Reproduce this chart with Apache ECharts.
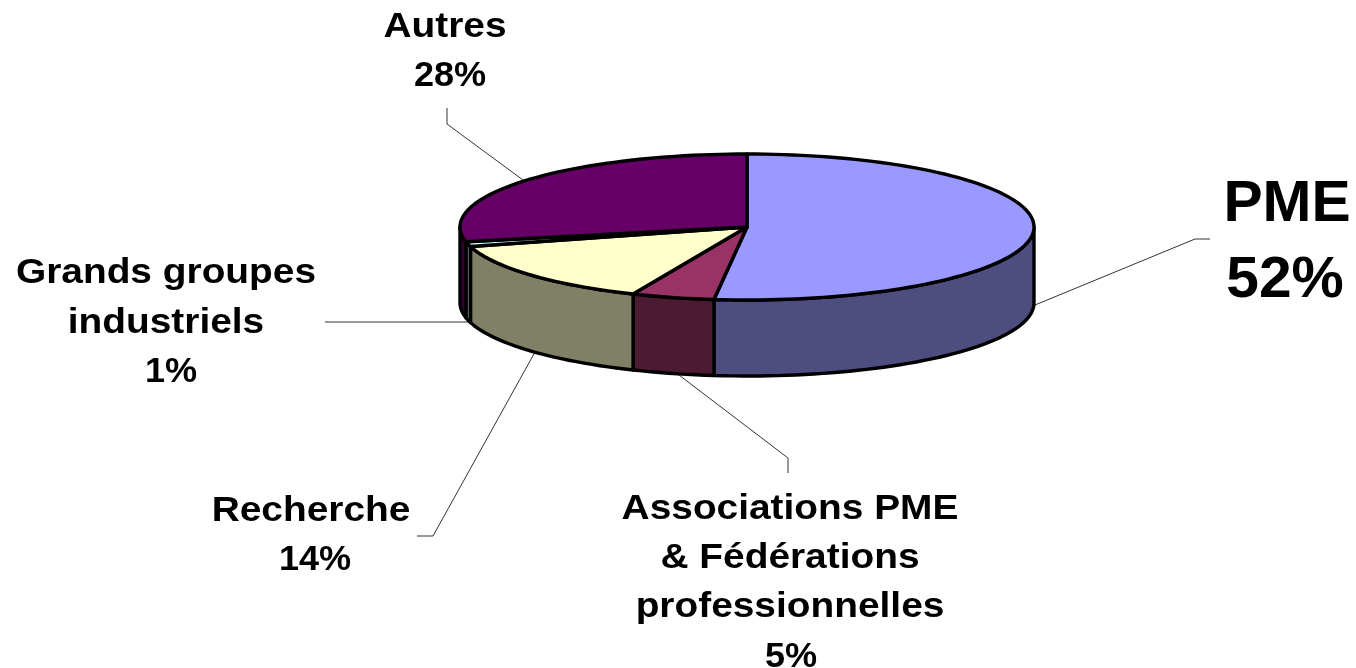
<!DOCTYPE html>
<html><head><meta charset="utf-8">
<style>html,body{margin:0;padding:0;background:#fff}#c{width:1356px;height:668px}</style>
<script src="https://cdn.jsdelivr.net/npm/echarts@6/dist/echarts.min.js"></script>
</head><body><div id="c"></div>
<script>
const categories = ['PME', 'Associations PME\n& Fédérations\nprofessionnelles', 'Recherche', 'Grands groupes\nindustriels', 'Autres'];
const values = [52, 5, 14, 1, 28];
const faceColors = ['#9999FF', '#993366', '#FFFFCC', '#CCFFFF', '#660066'];
const wallColors = ['#4D4D80', '#4D1A33', '#808066', '#668080', '#330033'];

const pie = {cx: 747, cy: 227, rx: 287, ry: 73, depth: 76, warp: 2.35};
const labelLayout = [
  {x: 1287, px: 1285, y: 243, size: 57, lh: 76, sx: 1.03, psx: 1.03},
  {x: 790, px: 791, y: 583, size: 35, lh: 49.4, sx: 1.11, psx: 1.03},
  {x: 311, px: 315, y: 536, size: 35, lh: 49.4, sx: 1.11, psx: 1.03},
  {x: 166, px: 171, y: 323, size: 35, lh: 49.4, sx: 1.11, psx: 1.03},
  {x: 445, px: 450, y: 52, size: 35, lh: 49.4, sx: 1.11, psx: 1.03}
];
const leaderLayout = [
  [[1035, 305], [1195, 239], [1210, 239]],
  [[675, 372], [788, 458], [788, 473]],
  [[535, 352], [433, 536], [417, 536]],
  [[325, 322], [470, 322]],
  [[447, 108], [447, 124], [523, 180]]
];

const total = values.reduce((a, b) => a + b, 0);
function angles(i) {
  let s = 0;
  for (let k = 0; k < i; k++) s += values[k];
  return [s / total * 360, (s + values[i]) / total * 360];
}
function pt(deg, dy) {
  // slight perspective foreshortening of the tilted disc
  const d = deg - pie.warp * Math.sin(2 * (deg - 180) * Math.PI / 180);
  const r = d * Math.PI / 180;
  return [pie.cx + pie.rx * Math.sin(r), pie.cy - pie.ry * Math.cos(r) + (dy || 0)];
}
function arc(a, b, dy) {
  const out = [], n = Math.max(1, Math.ceil((b - a) / 2));
  for (let k = 0; k <= n; k++) out.push(pt(a + (b - a) * k / n, dy));
  return out;
}
const seriesData = values.map(v => [v]);
const edge = {stroke: '#000', lineWidth: 3.4, lineJoin: 'round'};

const option = {
  backgroundColor: '#fff',
  animation: false,
  series: [
    {
      type: 'custom', coordinateSystem: 'none', z: 1, silent: true, data: seriesData,
      renderItem(params) {
        return {type: 'polyline', shape: {points: leaderLayout[params.dataIndex]},
          style: {stroke: '#333', lineWidth: 1, fill: null}};
      }
    },
    {
      type: 'custom', coordinateSystem: 'none', z: 2, silent: true, data: seriesData,
      renderItem(params) {
        const i = params.dataIndex, [s, e] = angles(i);
        const a = Math.max(s, 90), b = Math.min(e, 270);
        if (a >= b) return null;
        const pts = arc(a, b, 0).concat(arc(a, b, pie.depth).reverse());
        return {type: 'polygon', shape: {points: pts},
          style: Object.assign({fill: wallColors[i]}, edge)};
      }
    },
    {
      type: 'custom', coordinateSystem: 'none', z: 3, silent: true, data: seriesData,
      renderItem(params) {
        const i = params.dataIndex, [s, e] = angles(i);
        const pts = [[pie.cx, pie.cy]].concat(arc(s, e, 0));
        return {type: 'polygon', shape: {points: pts},
          style: Object.assign({fill: faceColors[i]}, edge)};
      }
    },
    {
      type: 'custom', coordinateSystem: 'none', z: 4, silent: true, data: seriesData,
      renderItem(params, api) {
        const i = params.dataIndex, l = labelLayout[i];
        const n = categories[i].split('\n').length;
        const font = 'bold ' + l.size + 'px "Liberation Sans", Arial, sans-serif';
        const base = {fill: '#000', align: 'center', verticalAlign: 'middle', font, lineHeight: l.lh, x: 0, y: 0};
        return {type: 'group', children: [
          {type: 'text', x: l.x, y: l.y - l.lh / 2, scaleX: l.sx,
            style: Object.assign({text: categories[i]}, base)},
          {type: 'text', x: l.px, y: l.y + n * l.lh / 2, scaleX: l.psx,
            style: Object.assign({text: api.value(0) + '%'}, base)}
        ]};
      }
    }
  ]
};
const chart = echarts.init(document.getElementById('c'), null, {renderer: 'canvas'});
chart.setOption(option);
</script></body></html>
